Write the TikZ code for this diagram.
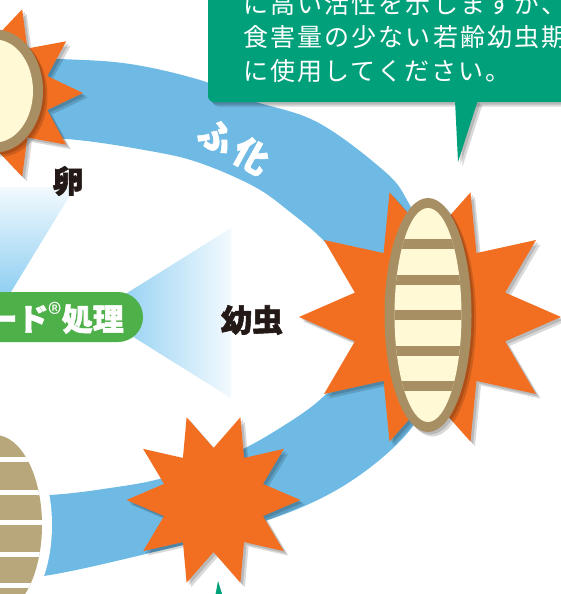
\documentclass[tikz,border=0pt]{standalone}
\usepackage{fontspec}
\newfontfamily\jp[BoldFeatures={FakeBold=1.8}]{Noto Sans CJK JP}
\newfontfamily\jpwide[LetterSpace=8.5]{Noto Sans CJK JP}

\definecolor{bandblue}{RGB}{110,186,228}
\definecolor{fanblue}{RGB}{128,200,240}
\definecolor{burstorange}{RGB}{242,111,34}
\definecolor{shelltan}{RGB}{168,143,99}
\definecolor{pupatan}{RGB}{183,167,122}
\definecolor{eggcream}{RGB}{255,249,214}
\definecolor{tipgreen}{RGB}{0,160,122}
\definecolor{pillgreen}{RGB}{77,176,72}
\definecolor{inkblack}{RGB}{35,25,22}

% ten-pointed burst: centre, outer radius, inner radius
\newcommand{\spiky}[3]{%
  \fill[spike, shift={(#1)}] (0:#2)
    \foreach \k in {1,...,9} {-- (\k*36-18:#3) -- (\k*36:#2)} -- (342:#3) -- cycle;}

\begin{document}
\begin{tikzpicture}[x=1pt, y=-1pt,
    shadowed/.style={preaction={fill=black, opacity=.15, transform canvas={shift={(4.5pt,-4.5pt)}}},
                     preaction={fill=black, opacity=.15, transform canvas={shift={(2.5pt,-2.5pt)}}}},
    spike/.style={fill=burstorange, shadowed},
    shell/.style={fill=shelltan, shadowed},
    core/.style={fill=eggcream},
    stripe/.style={draw=shelltan, line width=10pt},
    tag/.style={font=\jp\bfseries\fontsize{31}{31}\selectfont, text=inkblack, inner sep=0pt}]
    \useasboundingbox (0,0) rectangle (561,594);
    \clip (0,0) rectangle (561,594);

    % Fans
    \shade[top color=fanblue!10, bottom color=fanblue] (-40,187) -- (75,187) -- (0,310) -- (-40,310) -- cycle;
    \shade[left color=fanblue, right color=fanblue!10] (95,313) -- (231,228) -- (231,398) -- cycle;

    % Band
    \fill[bandblue] plot[smooth, tension=.6] coordinates {(-30,57) (60,59) (130,64) (200,80) (250,100)
        (317,122) (383,170) (407,200) (428,250) (440,317) (432,385) (410,430) (360,475) (300,508)
        (220,535) (150,553) (50,575) (-30,583)}
      -- plot[smooth, tension=.6] coordinates {(-30,497) (50,495) (110,488) (163,478) (230,455)
        (280,428) (323,397) (352,360) (362,315) (350,275) (323,240) (290,212) (255,187) (200,163)
        (150,151) (67,139) (-30,136)} -- cycle;

    % Lower tip
    \fill[tipgreen] (218,581) -- (214.5,600) -- (224,600) -- cycle;

    % Pupa
    \fill[white] (-5,525) ellipse [x radius=57, y radius=100];
    \begin{scope}
      \clip (-5,525) ellipse [x radius=47, y radius=90];
      \fill[pupatan] (-60,420) rectangle (60,620);
      \foreach \y in {459,492.5,522,554,585}
        \draw[white, line width=5pt] (-60,\y) -- (60,\y);
    \end{scope}

    % Egg
    \spiky{-5,93}{88}{55}
    \fill[shell] (-5,91) ellipse [x radius=48, y radius=61.5];
    \fill[core] (-5,91) ellipse [x radius=38, y radius=51.5];

    % Larva
    \spiky{430,317}{131}{79}
    \fill[shell] (428,315) ellipse [x radius=43.5, y radius=117];
    \begin{scope}
      \clip (428,315) ellipse [x radius=33.5, y radius=107];
      \fill[core] (380,200) rectangle (480,430);
      \foreach \y in {244,279.5,315,350.5,386}
        \draw[stripe] (380,\y) -- (480,\y);
    \end{scope}

    % Small burst
    \spiky{213.5,500}{87}{52}

    % Speech bubble
    \fill[tipgreen, shadowed, rounded corners=6] (208,-40) rectangle (600,102);
    \fill[tipgreen, shadowed] (455,100) -- (478,100) -- (458,162) -- cycle;
    \node[font=\jpwide\fontsize{25}{33.5}\selectfont, text=white, align=left, inner sep=0pt, anchor=west]
      (advice) at (243,37) {に高い活性を示しますが、\\食害量の少ない若齢幼虫期\\に使用してください。};

    % Treatment pill
    \fill[pillgreen, rounded corners=25] (-40,292) rectangle (143,342);
    \node[tag, text=white, anchor=east] (treat) at (124,318)
      {ード\raisebox{6pt}{\mdseries\fontsize{28}{28}\selectfont ®}処理};

    % Stage labels
    \node[tag] (egg) at (68,181) {卵};
    \node[tag] (larva) at (252,320) {幼虫};
    \node[tag, text=white, font=\jp\bfseries\fontsize{35}{35}\selectfont, rotate=-29] (hatch) at (234,146) {ふ\hspace{5pt}化};
\end{tikzpicture}
\end{document}
